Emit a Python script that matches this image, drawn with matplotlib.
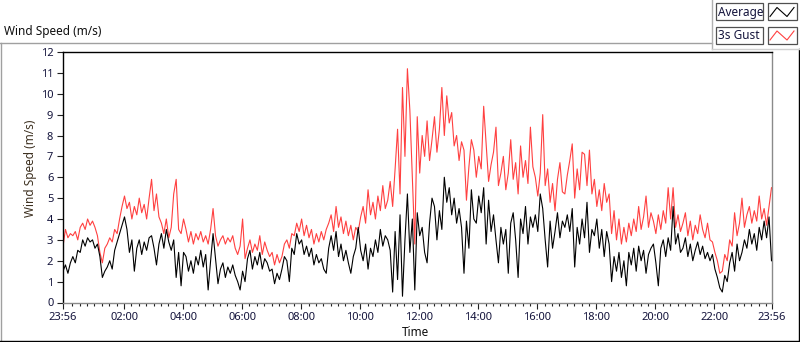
import numpy as np
import pandas as pd
import matplotlib
matplotlib.use("Agg")
import matplotlib.pyplot as plt
import matplotlib.dates as mdates
from matplotlib.lines import Line2D
from matplotlib.patches import Rectangle

plt.rcParams['font.family'] = ['Noto Sans', 'DejaVu Sans']

# ---------------- data (5-minute samples from 23:56 to 23:56) ----------------
start_time = "2000-01-01 23:56"
step = "5min"

gust = [
    2.7, 3.5, 3.1, 3.3, 3.2, 3.4, 3.0, 3.6, 3.8, 3.5, 4.0, 3.7,
    3.9, 3.6, 3.2, 2.4, 1.9, 2.6, 2.8, 3.1, 2.9, 3.5, 3.3, 4.0,
    4.6, 5.1, 4.5, 4.8, 4.0, 4.6, 4.2, 5.0, 4.3, 4.7, 4.0, 5.0,
    5.9, 4.4, 5.2, 4.1, 3.8, 3.3, 4.0, 3.1, 3.6, 5.2, 5.9, 3.5,
    3.3, 4.0, 3.5, 2.9, 3.4, 2.8, 3.3, 3.0, 3.4, 2.9, 3.2, 2.8,
    3.5, 4.5, 3.2, 2.7, 3.0, 3.2, 2.8, 3.1, 2.9, 3.2, 2.6, 2.3,
    2.7, 4.0, 2.1, 2.6, 3.0, 2.4, 2.8, 2.5, 3.2, 2.3, 2.9, 2.5,
    2.2, 2.4, 1.8, 2.3, 1.9, 2.2, 2.8, 3.0, 2.6, 3.3, 3.2, 3.8,
    3.4, 4.0, 3.2, 3.7, 3.1, 3.5, 2.8, 3.3, 2.9, 3.4, 3.0, 3.5,
    3.8, 4.2, 3.4, 4.6, 3.6, 4.1, 3.3, 3.9, 3.2, 3.7, 3.0, 3.6,
    3.4, 4.1, 4.6, 3.8, 5.4, 4.2, 4.8, 4.0, 5.1, 4.4, 5.6, 4.5,
    4.9, 5.8, 4.6, 6.4, 8.3, 5.2, 10.3, 7.0, 11.2, 9.2, 6.0, 2.8,
    8.9, 6.2, 8.0, 7.0, 8.7, 6.8, 7.8, 8.9, 7.2, 8.3, 10.3, 8.0,
    9.9, 8.6, 9.1, 7.5, 8.0, 6.8, 7.7, 7.3, 4.9, 6.5, 7.8, 7.3,
    6.0, 7.0, 6.4, 9.4, 7.6, 5.8, 6.6, 7.2, 8.4, 5.6, 6.2, 7.0,
    5.4, 6.2, 7.8, 5.9, 6.7, 5.2, 7.5, 6.0, 6.8, 5.7, 8.4, 6.5,
    6.0, 5.1, 6.2, 9.0, 5.6, 6.4, 4.8, 5.7, 4.4, 5.9, 6.7, 5.3,
    5.2, 6.1, 6.8, 7.6, 5.0, 6.4, 5.4, 7.2, 7.1, 5.6, 7.3, 5.2,
    5.9, 4.6, 5.4, 4.4, 5.7, 4.8, 5.2, 3.3, 4.4, 3.0, 4.0, 2.8,
    3.6, 2.9, 3.8, 3.2, 4.0, 3.4, 4.6, 3.5, 4.1, 5.1, 3.6, 4.3,
    3.9, 3.3, 4.2, 3.5, 4.4, 3.8, 5.5, 4.0, 5.5, 3.6, 4.2, 3.4,
    3.8, 4.3, 3.2, 3.9, 3.0, 3.7, 3.3, 4.2, 3.5, 3.1, 3.8, 3.0,
    2.9, 2.4, 2.0, 1.4, 1.5, 2.3, 2.0, 3.0, 2.7, 4.3, 3.2, 3.8,
    5.0, 3.6, 4.2, 4.6, 3.8, 4.4, 3.9, 5.1, 4.0, 4.5, 3.7, 4.6,
    5.5,
]

average = [
    1.5, 1.8, 1.4, 1.9, 2.2, 1.9, 2.5, 2.4, 3.0, 2.7, 3.1, 2.9,
    3.0, 2.6, 2.8, 2.2, 1.2, 1.5, 1.7, 2.0, 1.6, 2.5, 2.9, 3.3,
    3.7, 4.1, 3.5, 2.4, 3.0, 1.5, 2.6, 3.0, 2.3, 2.9, 2.5, 3.1,
    3.2, 2.6, 1.8, 2.8, 3.3, 2.6, 3.5, 2.9, 2.5, 3.0, 1.2, 2.4,
    0.8, 2.4, 2.2, 1.5, 2.0, 1.4, 2.2, 1.8, 2.5, 1.7, 2.3, 0.6,
    2.0, 3.3, 2.1, 0.9, 1.6, 1.9, 1.2, 1.7, 1.4, 1.8, 1.3, 1.0,
    0.6, 1.5, 1.0, 2.1, 2.5, 1.6, 2.2, 1.8, 2.4, 1.6, 2.1, 1.9,
    1.5, 1.6, 0.9, 1.4, 1.1, 1.6, 2.2, 2.0, 1.0, 2.6, 2.3, 3.3,
    2.8, 3.0, 2.3, 2.7, 2.2, 2.6, 1.8, 2.3, 1.9, 2.1, 1.6, 1.4,
    2.6, 3.2, 2.5, 3.4, 2.2, 2.8, 2.0, 2.5, 1.9, 1.4, 2.2, 2.6,
    3.6, 2.5, 2.0, 2.8, 1.6, 2.6, 2.2, 3.0, 2.4, 3.5, 2.7, 3.2,
    3.0, 2.5, 0.5, 3.4, 1.1, 4.2, 0.3, 3.0, 5.2, 2.4, 4.0, 0.6,
    4.3, 3.2, 3.6, 2.4, 1.9, 3.8, 5.0, 4.6, 3.0, 4.4, 3.5, 6.0,
    4.8, 5.5, 4.2, 5.0, 3.8, 4.5, 3.6, 1.4, 3.9, 2.6, 5.4, 4.0,
    3.8, 5.1, 4.3, 5.5, 2.8, 4.9, 3.4, 4.2, 3.0, 1.9, 3.6, 2.8,
    3.5, 1.4, 3.8, 4.3, 3.0, 1.2, 4.0, 3.3, 4.6, 2.8, 4.1, 3.6,
    4.2, 3.4, 5.2, 4.5, 3.0, 1.7, 3.9, 2.6, 3.4, 4.3, 3.1, 3.9,
    3.6, 4.2, 3.4, 4.5, 1.7, 3.6, 2.8, 4.0, 3.1, 4.8, 2.4, 3.5,
    3.2, 4.0, 2.6, 3.5, 2.2, 3.4, 2.8, 1.0, 2.2, 1.5, 2.4, 1.2,
    2.0, 0.8, 2.4, 1.8, 2.6, 1.5, 2.7, 2.0, 2.5, 1.4, 2.3, 2.6,
    2.8, 1.9, 0.8, 2.6, 3.0, 2.2, 3.1, 2.5, 4.6, 2.8, 3.3, 2.4,
    2.6, 3.1, 2.2, 2.8, 2.0, 2.5, 2.9, 2.3, 2.7, 2.1, 2.4, 2.0,
    2.3, 1.6, 1.2, 0.7, 0.5, 1.3, 1.0, 1.9, 2.4, 1.5, 2.8, 2.0,
    2.4, 3.0, 2.6, 3.5, 2.8, 3.3, 2.5, 3.6, 3.0, 3.9, 3.1, 4.1,
    2.0,
]

series_names = ["Average", "3s Gust"]
series_colors = ["#000000", "#ff4040"]
major_tick_times = ["2000-01-01 23:56"] + [f"2000-01-02 {h:02d}:00" for h in range(2, 24, 2)] + ["2000-01-02 23:56"]
y_ticks = list(range(0, 13))

# ---------------- figure ----------------
W, H = 800, 342
fig = plt.figure(figsize=(W / 100, H / 100), dpi=100)
fig.patch.set_facecolor("white")

def fx(x):
    return x / W

def fy(y):
    return 1 - y / H

L, R, T, B = 63, 771.5, 52, 302.5
ax = fig.add_axes([fx(L), fy(B), (R - L) / W, (B - T) / H])

times = pd.date_range(start_time, periods=len(gust), freq=step)
ax.plot(times, gust, color=series_colors[1], lw=0.8, zorder=2)
ax.plot(times, average, color=series_colors[0], lw=0.8, zorder=3)

ax.set_xlim(times[0], times[-1])
ax.set_ylim(0, 12)

label_col = "#14143c"
maj = pd.to_datetime(major_tick_times)
ax.set_xticks(maj)
ax.set_xticklabels([t.strftime("%H:%M") for t in maj])
minor = pd.date_range("2000-01-02 00:00", "2000-01-02 23:45", freq="15min")
minor = [m for m in minor if m.minute != 0 or m.hour % 2 == 1]
ax.set_xticks(minor, minor=True)
ax.set_yticks(y_ticks)

ax.tick_params(axis="both", which="major", direction="out", length=4.5, width=0.8,
               colors="#202020", labelcolor=label_col, labelsize=8, pad=2.5)
ax.tick_params(axis="x", which="minor", direction="out", length=2.4, width=0.8, colors="#202020")

for side in ["top", "left"]:
    ax.spines[side].set_color("#000000")
    ax.spines[side].set_linewidth(1.0)
for side in ["bottom", "right"]:
    ax.spines[side].set_color("#8a8a8a")
    ax.spines[side].set_linewidth(1.0)

ax.set_xlabel("Time", fontsize=8.5, color="#101010")
ax.xaxis.set_label_coords((416 - L) / (R - L), -(326.5 - B) / (B - T))
ax.set_ylabel("Wind Speed (m/s)", fontsize=8.5, color="#3d3020")
ax.yaxis.set_label_coords(-(L - 37) / (R - L), (B - 168) / (B - T))

# title
fig.text(fx(4), fy(32), "Wind Speed (m/s)", fontsize=8.5, color="#101010",
         ha="left", va="center")

# frame lines
def fline(x0, y0, x1, y1, color, lw=1.0):
    fig.add_artist(Line2D([fx(x0), fx(x1)], [fy(y0), fy(y1)], color=color, lw=lw,
                          transform=fig.transFigure))

fline(0, 42.5, 712, 42.5, "#a0a0a0")
fline(0.5, 42.5, 0.5, 341, "#a0a0a0")
fline(0, 340.5, 799, 340.5, "#000000")
fline(798.5, 49, 798.5, 341, "#000000")
fline(712, 0, 712, 48.5, "#b0b0b0")
fline(712, 48.5, 800, 48.5, "#d0d0d0")

# legend
for k, (name, col) in enumerate(zip(series_names, series_colors)):
    y0 = 3.5 + k * 23.5
    h = 16.5
    fig.add_artist(Rectangle((fx(715.5), fy(y0 + h)), (763 - 715.5) / W, h / H,
                             transform=fig.transFigure, fill=False, ec="#505050", lw=0.9))
    fig.text(fx(717.5), fy(y0 + h / 2 + 0.5), name, fontsize=8.5, color=label_col,
             ha="left", va="center")
    fig.add_artist(Rectangle((fx(767.5), fy(y0 + h)), (796.5 - 767.5) / W, h / H,
                             transform=fig.transFigure, fill=False, ec="#505050", lw=0.9))
    zx = [770, 777, 787, 794]
    zy = [y0 + 13, y0 + 4, y0 + 13, y0 + 4]
    fig.add_artist(Line2D([fx(v) for v in zx], [fy(v) for v in zy], color=col, lw=0.8,
                          transform=fig.transFigure))

fig.savefig("out.png", dpi=100, facecolor="white")
